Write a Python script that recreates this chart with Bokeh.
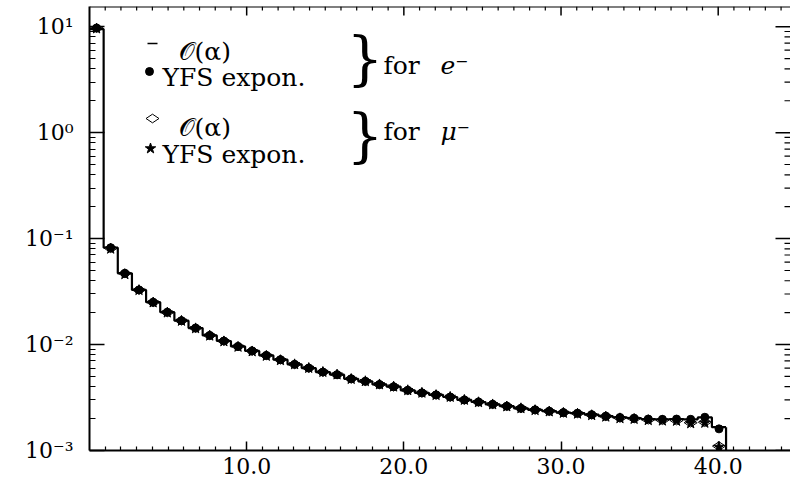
import numpy as np
from bokeh.plotting import figure
from bokeh.models import (Range1d, FixedTicker, NumeralTickFormatter, CustomJSTickFormatter, Span)
from bokeh.core.properties import value
from bokeh.embed import file_html
from bokeh.resources import INLINE

# ---------------- data ----------------
bin_width = 0.9
bin_lo = [round(i * bin_width, 1) for i in range(45)]

e_oa = [9.5, 0.082, 0.047, 0.0328, 0.0251, 0.0202, 0.0168, 0.0143, 0.0122, 0.0108,
        0.0096, 0.0087, 0.0079, 0.0072, 0.0065, 0.0060, 0.0055, 0.0052, 0.00475, 0.0045,
        0.0042, 0.0040, 0.0037, 0.0035, 0.00335, 0.0032, 0.0030, 0.00287, 0.00273, 0.00262,
        0.0025, 0.00242, 0.00235, 0.00228, 0.00225, 0.00218, 0.00211, 0.00205, 0.00202, 0.00198,
        0.00197, 0.00198, 0.00197, 0.00205, 0.00166]
e_yfs = [9.7, 0.082, 0.047, 0.0328, 0.0251, 0.0202, 0.0168, 0.0143, 0.0122, 0.0108,
         0.0096, 0.0087, 0.0079, 0.0072, 0.0065, 0.0060, 0.0055, 0.0052, 0.00475, 0.0045,
         0.0042, 0.0040, 0.0037, 0.0035, 0.00335, 0.0032, 0.0030, 0.00287, 0.00273, 0.00262,
         0.0025, 0.00242, 0.00235, 0.00228, 0.00225, 0.00218, 0.00211, 0.00205, 0.00202, 0.00198,
         0.00197, 0.00198, 0.00197, 0.00206, 0.00160]
mu_oa = [9.7, 0.081, 0.047, 0.0327, 0.0250, 0.0201, 0.0168, 0.0143, 0.0122, 0.0108,
         0.0096, 0.0087, 0.0079, 0.0072, 0.0065, 0.0060, 0.0055, 0.0052, 0.00475, 0.0045,
         0.0042, 0.0040, 0.0037, 0.0035, 0.00335, 0.0032, 0.0030, 0.00287, 0.00273, 0.00262,
         0.0025, 0.00242, 0.00235, 0.00228, 0.00224, 0.00217, 0.00210, 0.00203, 0.00200, 0.00195,
         0.00193, 0.00192, 0.00183, 0.00185, 0.00110]
mu_yfs = [9.6, 0.080, 0.046, 0.0326, 0.0249, 0.0200, 0.0167, 0.0142, 0.0121, 0.0107,
          0.0095, 0.0086, 0.0078, 0.0071, 0.0065, 0.0060, 0.0055, 0.0052, 0.00472, 0.0045,
          0.0042, 0.0040, 0.0037, 0.0035, 0.00333, 0.0032, 0.0030, 0.00285, 0.00272, 0.00260,
          0.0025, 0.00240, 0.00233, 0.00226, 0.00222, 0.00215, 0.00208, 0.00201, 0.00198, 0.00193,
          0.00191, 0.00190, 0.00180, 0.00182, 0.00108]

x_major = [10, 20, 30, 40]
x_minor = [i for i in range(1, 45) if i % 10 != 0]
y_major = [1e-3, 1e-2, 1e-1, 1e0, 1e1]
y_minor = [k * 10.0 ** n for n in range(-3, 2) for k in range(2, 10)]

legend_labels = ["𝒪(α)", "YFS expon.", "𝒪(α)", "YFS expon."]
group_labels = ["for", "for"]
group_particles = ["e⁻", "μ⁻"]

# ---------------- layout ----------------
W, H = 790, 482
LEFT, TOP, BOTTOM = 89, 6, 32
X0, X1 = 0.0, 44.6
Y0, Y1 = 1e-3, 15.5
font = "DejaVu Serif"

frame_w = W - LEFT
frame_h = H - TOP - BOTTOM

def px_x(px):
    return X0 + (px - LEFT) / frame_w * (X1 - X0)

def px_y(py):
    ly0, ly1 = np.log10(Y0), np.log10(Y1)
    return 10 ** (ly1 - (py - TOP) / frame_h * (ly1 - ly0))

p = figure(width=W, height=H, x_range=Range1d(X0, X1), y_range=Range1d(Y0, Y1),
           y_axis_type="log", output_backend="svg", toolbar_location=None,
           min_border_left=LEFT, min_border_right=0, min_border_top=TOP,
           min_border_bottom=BOTTOM)
p.background_fill_color = "white"
p.border_fill_color = "white"
p.outline_line_color = None
p.xgrid.visible = False
p.ygrid.visible = False

centers = [lo + bin_width / 2 for lo in bin_lo]
edges = bin_lo + [bin_lo[-1] + bin_width]

# histogram line: e- O(alpha)
p.step(x=edges, y=e_oa + [e_oa[-1]], mode="after", line_color="black", line_width=2.2)
p.segment(x0=[edges[-1]], y0=[e_oa[-1]], x1=[edges[-1]], y1=[Y0], line_color="black", line_width=2.2)

# markers
p.scatter(x=centers, y=mu_oa, marker="diamond", angle=np.pi / 2, size=13,
          fill_color=None, line_color="black", line_width=1)
p.scatter(x=centers, y=mu_yfs, marker="star", size=11, fill_color="black", line_color="black")
p.scatter(x=centers, y=e_yfs, marker="circle", size=8, fill_color="black", line_color="black")

# axes styling
def style_axis(ax, ticker, major_in, minor_in):
    ax.ticker = ticker
    ax.axis_line_color = "black"
    ax.axis_line_width = 2
    ax.major_tick_in = major_in
    ax.major_tick_out = 0
    ax.minor_tick_in = minor_in
    ax.minor_tick_out = 0
    ax.major_tick_line_color = "black"
    ax.minor_tick_line_color = "black"
    ax.major_tick_line_width = 1.5
    ax.minor_tick_line_width = 1.2
    ax.major_label_text_font = font
    ax.major_label_text_color = "black"

style_axis(p.xaxis[0], FixedTicker(ticks=x_major, minor_ticks=x_minor), 9, 4)
p.xaxis[0].formatter = NumeralTickFormatter(format="0.0")
p.xaxis[0].major_label_text_font_size = "22px"
p.xaxis[0].major_label_standoff = 7

style_axis(p.yaxis[0], FixedTicker(ticks=y_major, minor_ticks=y_minor), 15, 6)
p.yaxis[0].formatter = CustomJSTickFormatter(code="""
const e = Math.round(Math.log10(tick));
const sup = {'-':'\u207b','0':'\u2070','1':'\u00b9','2':'\u00b2','3':'\u00b3','4':'\u2074',
             '5':'\u2075','6':'\u2076','7':'\u2077','8':'\u2078','9':'\u2079'};
return '10' + String(e).split('').map(c => sup[c]).join('');
""")
p.yaxis[0].major_label_text_font_size = "22px"
p.yaxis[0].major_label_standoff = 16

# mirrored frame: top line and inward ticks on top and right
p.add_layout(Span(location=Y1, dimension="width", line_color="black", line_width=2))
p.ray(x=x_major, y=[Y1] * len(x_major), length=9, length_units="screen",
      angle=-np.pi / 2, line_color="black", line_width=1.5)
p.ray(x=x_minor, y=[Y1] * len(x_minor), length=4, length_units="screen",
      angle=-np.pi / 2, line_color="black", line_width=1.2)
p.ray(x=[X1] * len(y_major), y=y_major, length=15, length_units="screen",
      angle=np.pi, line_color="black", line_width=1.5)
p.ray(x=[X1] * len(y_minor), y=y_minor, length=6, length_units="screen",
      angle=np.pi, line_color="black", line_width=1.2)

# ---------------- legend ----------------
fs = "25px"
p.segment(x0=[px_x(147)], y0=[px_y(43)], x1=[px_x(157)], y1=[px_y(43)], line_color="black", line_width=1.5)
p.scatter(x=[px_x(149)], y=[px_y(71)], marker="circle", size=8, fill_color="black", line_color="black")
p.scatter(x=[px_x(152)], y=[px_y(118)], marker="diamond", angle=np.pi / 2, size=13,
          fill_color=None, line_color="black", line_width=1)
p.scatter(x=[px_x(150)], y=[px_y(148)], marker="star", size=11, fill_color="black", line_color="black")

p.text(x=[px_x(178), px_x(162), px_x(178), px_x(162)],
       y=[px_y(51), px_y(77), px_y(127), px_y(154)],
       text=legend_labels, text_font=value(font), text_font_size=fs,
       text_align="left", text_baseline="alphabetic", text_color="black")
p.text(x=[px_x(346), px_x(346)], y=[px_y(58), px_y(135)], text=["}", "}"],
       text_font=value(font), text_font_size="58px", text_align="left",
       text_baseline="middle", text_color="black")
p.text(x=[px_x(383), px_x(383)], y=[px_y(65), px_y(131)], text=group_labels,
       text_font=value(font), text_font_size=fs, text_align="left",
       text_baseline="alphabetic", text_color="black")
p.text(x=[px_x(440), px_x(440)], y=[px_y(65), px_y(131)], text=group_particles,
       text_font=value(font), text_font_size=fs, text_font_style="italic",
       text_align="left", text_baseline="alphabetic", text_color="black")

open("out.html", "w", encoding="utf-8").write(file_html(p, INLINE))
